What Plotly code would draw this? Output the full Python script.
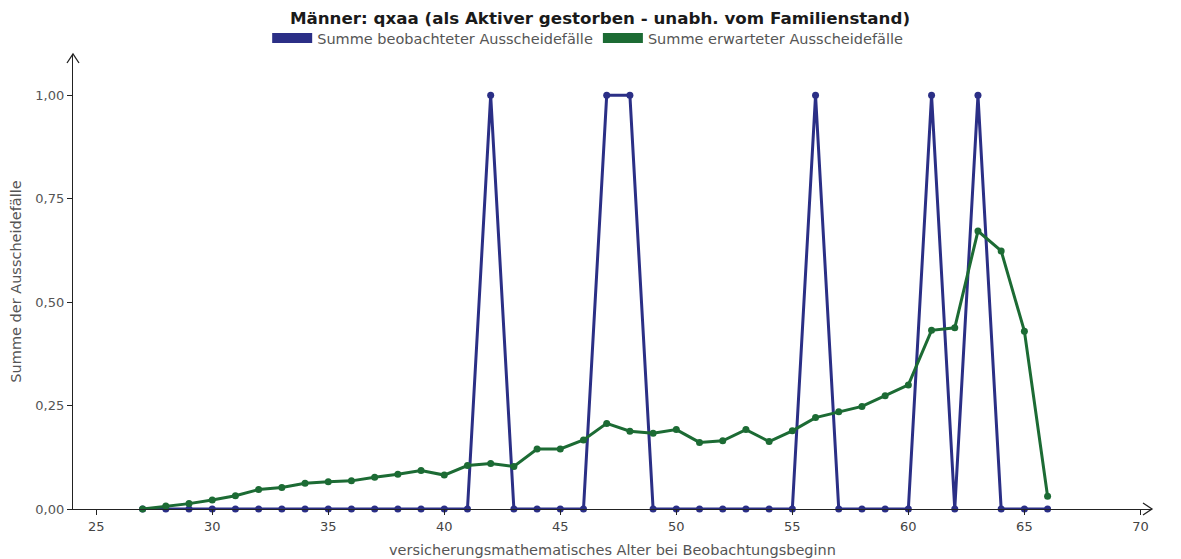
import plotly.graph_objects as go

# Alter bei Beobachtungsbeginn
alter = list(range(27, 67))

# Summe beobachteter Ausscheidefälle
beobachtet = [0, 0, 0, 0, 0, 0, 0, 0, 0, 0, 0, 0, 0, 0, 0, 1, 0, 0, 0, 0, 1, 1, 0, 0,
              0, 0, 0, 0, 0, 1, 0, 0, 0, 0, 1, 0, 1, 0, 0, 0]

# Summe erwarteter Ausscheidefälle
erwartet = [0.000, 0.007, 0.013, 0.022, 0.032, 0.047, 0.052, 0.062, 0.066, 0.068,
            0.077, 0.084, 0.093, 0.082, 0.105, 0.110, 0.103, 0.145, 0.145, 0.167,
            0.207, 0.188, 0.183, 0.192, 0.161, 0.165, 0.192, 0.163, 0.189, 0.221,
            0.235, 0.248, 0.274, 0.300, 0.432, 0.438, 0.672, 0.624, 0.430, 0.031]

x_ticks = [25, 30, 35, 40, 45, 50, 55, 60, 65, 70]
y_ticks = [0, 0.25, 0.5, 0.75, 1.0]

BLUE = "#2b2f86"
GREEN = "#1c6b34"
FONT = "DejaVu Sans"
X_MIN, X_MAX = 24, 70.5
Y_MIN, Y_MAX = 0, 1.1

fig = go.Figure()

fig.add_trace(go.Scatter(
    x=alter, y=beobachtet, mode="lines+markers",
    line=dict(color=BLUE, width=3), marker=dict(color=BLUE, size=7),
    showlegend=False, cliponaxis=False,
))
fig.add_trace(go.Scatter(
    x=alter, y=erwartet, mode="lines+markers",
    line=dict(color=GREEN, width=3), marker=dict(color=GREEN, size=7),
    showlegend=False, cliponaxis=False,
))

# legend swatches as thick bars
for name, col in [("Summe beobachteter Ausscheidefälle", BLUE),
                  ("Summe erwarteter Ausscheidefälle", GREEN)]:
    fig.add_trace(go.Scatter(
        x=[None], y=[None], mode="lines", name=name,
        line=dict(color=col, width=10),
    ))

# open arrow heads at the axis ends (paper refs so they are not clipped)
arrow = dict(type="path", xsizemode="pixel", ysizemode="pixel",
             xref="paper", yref="paper",
             line=dict(color="#222222", width=1.3), layer="above")
fig.add_shape(**arrow, xanchor=1, yanchor=0, path="M -9 6 L 0 0 L -9 -6")
fig.add_shape(**arrow, xanchor=0, yanchor=1, path="M -6 -9 L 0 0 L 6 -9")

fig.update_layout(
    width=1181, height=559,
    margin=dict(l=73, r=29, t=54, b=50),
    paper_bgcolor="white", plot_bgcolor="white",
    separators=",.",
    font=dict(family=FONT, color="#555555", size=13),
    title=dict(
        text="<b>Männer: qxaa (als Aktiver gestorben - unabh. vom Familienstand)</b>",
        x=0.508, xanchor="center", y=0.978, yanchor="top",
        font=dict(family=FONT, size=16.7, color="#1a1a1a"),
    ),
    legend=dict(
        orientation="h", x=0.477, xanchor="center", y=1.0, yanchor="bottom",
        font=dict(size=14.5, color="#555555"), itemwidth=40,
        bgcolor="rgba(0,0,0,0)", tracegroupgap=0,
    ),
    xaxis=dict(
        range=[X_MIN, X_MAX], tickvals=x_ticks, showgrid=False, zeroline=False,
        showline=True, linecolor="#222222", linewidth=1.3, automargin=False,
        ticks="outside", ticklen=5, tickcolor="#222222",
        tickfont=dict(size=13, color="#444444"),
        title=dict(text="versicherungsmathematisches Alter bei Beobachtungsbeginn",
                   font=dict(size=14.5, color="#555555"), standoff=12),
    ),
    yaxis=dict(
        range=[Y_MIN, Y_MAX], tickvals=y_ticks, tickformat=".2f",
        showgrid=False, zeroline=False, automargin=False,
        showline=True, linecolor="#222222", linewidth=1.3,
        ticks="outside", ticklen=5, tickcolor="#222222",
        tickfont=dict(size=13, color="#555555"),
        title=dict(text="Summe der Ausscheidefälle",
                   font=dict(size=14.5, color="#555555"), standoff=10),
    ),
)

fig.write_html("out.html")
